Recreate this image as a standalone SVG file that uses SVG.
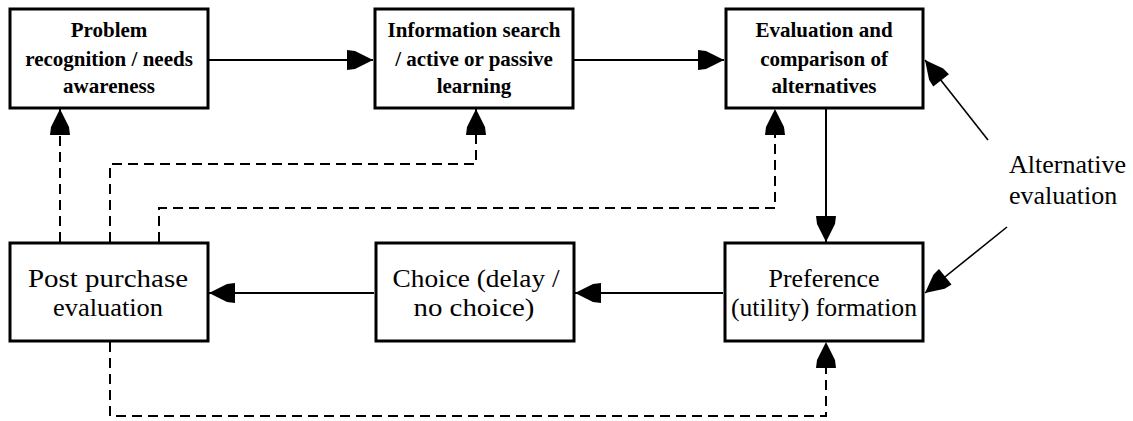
<svg xmlns="http://www.w3.org/2000/svg" width="1133" height="421" viewBox="0 0 1133 421">
<style>
.box{fill:#fff;stroke:#000;stroke-width:3}
.ln{fill:none;stroke:#000;stroke-width:2}
.dash{fill:none;stroke:#000;stroke-width:2;stroke-dasharray:10 6}
.diag{fill:none;stroke:#000;stroke-width:1.6}
.t1{font-family:"Liberation Serif","Times New Roman",serif;font-weight:bold;font-size:21px;text-anchor:middle;fill:#000}
.t2{font-family:"Liberation Serif","Times New Roman",serif;font-size:26px;text-anchor:middle;fill:#000}
.t3{font-family:"Liberation Serif","Times New Roman",serif;font-size:26px;text-anchor:start;fill:#000}
</style>
<defs>
<marker id="ah" markerUnits="userSpaceOnUse" markerWidth="26" markerHeight="20" refX="26" refY="10" orient="auto" overflow="visible">
<path d="M0,0 L8,1 L26,10 L8,19 L0,20 Z" fill="#000"/>
</marker>
</defs>
<rect width="1133" height="421" fill="#fff"/>
<g id="connectors">
<line class="ln" x1="209" y1="60" x2="373" y2="60" marker-end="url(#ah)"/>
<line class="ln" x1="574" y1="60" x2="724" y2="60" marker-end="url(#ah)"/>
<line class="ln" x1="826" y1="109" x2="826" y2="242" marker-end="url(#ah)"/>
<line class="ln" x1="723" y1="293" x2="575" y2="293" marker-end="url(#ah)"/>
<line class="ln" x1="374" y1="293" x2="209" y2="293" marker-end="url(#ah)"/>
<polyline class="dash" points="60,242 60,109" marker-end="url(#ah)"/>
<polyline class="dash" points="110,242 110,164 476,164 476,109" marker-end="url(#ah)"/>
<polyline class="dash" points="159,242 159,208 775,208 775,109" marker-end="url(#ah)"/>
<polyline class="dash" points="110,342 110,416 826,416 826,342" marker-end="url(#ah)"/>
<line class="diag" x1="988" y1="140" x2="925" y2="60" marker-end="url(#ah)"/>
<line class="diag" x1="1007" y1="227" x2="925" y2="293" marker-end="url(#ah)"/>
</g>
<g id="problem">
<rect class="box" x="10" y="9" width="198" height="99"/>
<text class="t1" x="109" y="37">Problem</text>
<text class="t1" x="109" y="66">recognition / needs</text>
<text class="t1" x="109" y="93">awareness</text>
</g>
<g id="search">
<rect class="box" x="375" y="9" width="198" height="99"/>
<text class="t1" x="474" y="37">Information search</text>
<text class="t1" x="474" y="66">/ active or passive</text>
<text class="t1" x="474" y="93">learning</text>
</g>
<g id="evaluation">
<rect class="box" x="726" y="9" width="197" height="99"/>
<text class="t1" x="824" y="37">Evaluation and</text>
<text class="t1" x="824" y="66">comparison of</text>
<text class="t1" x="824" y="93">alternatives</text>
</g>
<g id="preference">
<rect class="box" x="725" y="243" width="198" height="98"/>
<text class="t2" x="824" y="287" textLength="111" lengthAdjust="spacingAndGlyphs">Preference</text>
<text class="t2" x="824" y="316" textLength="186" lengthAdjust="spacingAndGlyphs">(utility) formation</text>
</g>
<g id="choice">
<rect class="box" x="376" y="243" width="198" height="98"/>
<text class="t2" x="476" y="287" textLength="167" lengthAdjust="spacingAndGlyphs">Choice (delay /</text>
<text class="t2" x="474" y="316" textLength="121" lengthAdjust="spacingAndGlyphs">no choice)</text>
</g>
<g id="post">
<rect class="box" x="10" y="243" width="198" height="98"/>
<text class="t2" x="108" y="287" textLength="160" lengthAdjust="spacingAndGlyphs">Post purchase</text>
<text class="t2" x="108" y="316" textLength="110" lengthAdjust="spacingAndGlyphs">evaluation</text>
</g>
<g id="alt-label">
<text class="t3" x="1009" y="173">Alternative</text>
<text class="t3" x="1009" y="204">evaluation</text>
</g>
</svg>
